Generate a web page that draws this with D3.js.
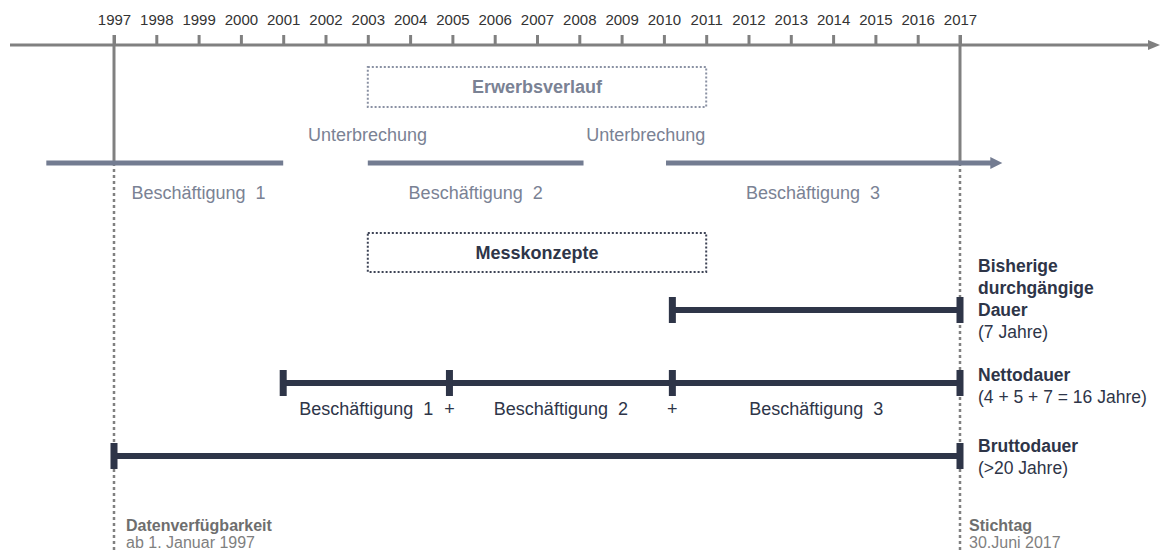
<!DOCTYPE html>
<html>
<head>
<meta charset="utf-8">
<script src="https://cdnjs.cloudflare.com/ajax/libs/d3/7.8.5/d3.min.js"></script>
<style>
  body { margin: 0; background: #fff; }
  svg { display: block; font-family: "Liberation Sans", Arial, sans-serif; }
</style>
</head>
<body>
<svg id="chart" width="1164" height="553"></svg>
<script>
// years on the time axis
var years = d3.range(1997, 2018);

// employment spells (start / end in years)
var jobNames = ["Beschäftigung 1", "Beschäftigung 2", "Beschäftigung 3"];
var jobStart = [1995.4, 2003, 2010.05];
var jobEnd = [2001, 2008.1, 2018];

// interruptions between spells
var gapNames = ["Unterbrechung", "Unterbrechung"];
var gapStart = [2001, 2008.1];
var gapEnd = [2003, 2010.05];

// measurement concepts
var measureNames = [["Bisherige", "durchgängige", "Dauer"], ["Nettodauer"], ["Bruttodauer"]];
var measureNotes = ["(7 Jahre)", "(4 + 5 + 7 = 16 Jahre)", "(>20 Jahre)"];
var measureCuts = [[2010.2, 2017], [2001, 2004.93, 2010.2, 2017], [1997, 2017]];

// window of observed data
var windowYears = [1997, 2017];
var windowNotes = [["Datenverfügbarkeit", "ab 1. Januar 1997"], ["Stichtag", "30.Juni 2017"]];

var slate = "#737c91", slateText = "#7a8294", navy = "#2e3548", grey = "#808080";

var svg = d3.select("#chart");
var x = d3.scaleLinear().domain([1997, 2017]).range([114, 960]);
var axisY = 45, jobY = 163;

// axis line with arrow
svg.append("line")
    .attr("x1", 10).attr("x2", 1150)
    .attr("y1", axisY).attr("y2", axisY)
    .attr("stroke", grey).attr("stroke-width", 3);
svg.append("path")
    .attr("d", "M1148," + (axisY - 5) + "L1160," + axisY + "L1148," + (axisY + 5) + "Z")
    .attr("fill", grey);

var axis = svg.append("g")
    .attr("transform", "translate(0," + axisY + ")")
    .call(d3.axisTop(x).tickValues(years).tickSize(10).tickPadding(10).tickFormat(d3.format("d")));
axis.select(".domain").remove();
axis.selectAll(".tick line").attr("stroke", grey).attr("stroke-width", 3);
axis.selectAll(".tick text")
    .attr("fill", "#333")
    .style("font-size", "15px")
    .style("font-family", "Liberation Sans, Arial, sans-serif");

// observation window: solid part, then dotted part
windowYears.forEach(function (yr, i) {
    svg.append("line")
        .attr("x1", x(yr)).attr("x2", x(yr))
        .attr("y1", axisY - 10).attr("y2", jobY)
        .attr("stroke", grey).attr("stroke-width", 3);
    svg.append("line")
        .attr("x1", x(yr)).attr("x2", x(yr))
        .attr("y1", jobY).attr("y2", 552)
        .attr("stroke", grey).attr("stroke-width", 2.5)
        .attr("stroke-dasharray", "3,3");
    var tx = x(yr) + (i == 0 ? 12 : 9);
    var t = svg.append("text")
        .attr("x", tx).attr("y", 531)
        .style("font-size", "16px");
    t.append("tspan").attr("x", tx).attr("font-weight", "bold")
        .attr("fill", "#6e6e6e").text(windowNotes[i][0]);
    t.append("tspan").attr("x", tx).attr("dy", 17)
        .attr("fill", "#7f7f7f").text(windowNotes[i][1]);
});

// dotted headline boxes
function box(y0, y1, label, stroke, fill) {
    svg.append("rect")
        .attr("x", x(2003)).attr("y", y0)
        .attr("width", x(2011) - x(2003)).attr("height", y1 - y0)
        .attr("fill", "none").attr("stroke", stroke).attr("stroke-width", 2)
        .attr("stroke-dasharray", "2,2");
    svg.append("text")
        .attr("x", (x(2003) + x(2011)) / 2).attr("y", (y0 + y1) / 2 + 6)
        .attr("text-anchor", "middle").attr("font-weight", "bold")
        .attr("fill", fill).style("font-size", "18px").text(label);
}
box(67, 107, "Erwerbsverlauf", "#8a91a3", slateText);
box(233, 272, "Messkonzepte", "#3d4355", navy);

// employment spells
jobNames.forEach(function (name, i) {
    var last = i == jobNames.length - 1;
    svg.append("line")
        .attr("x1", x(jobStart[i])).attr("x2", last ? x(jobEnd[i]) - 10 : x(jobEnd[i]))
        .attr("y1", jobY).attr("y2", jobY)
        .attr("stroke", slate).attr("stroke-width", 5);
    if (last) {
        svg.append("path")
            .attr("d", "M" + (x(jobEnd[i]) - 12) + "," + (jobY - 6) + "L" + x(jobEnd[i]) + "," + jobY +
                "L" + (x(jobEnd[i]) - 12) + "," + (jobY + 6) + "Z")
            .attr("fill", slate);
    }
    var a = Math.max(jobStart[i], 1997), b = Math.min(jobEnd[i], 2017);
    svg.append("text")
        .attr("x", (x(a) + x(b)) / 2).attr("y", 199)
        .attr("text-anchor", "middle").attr("fill", slateText)
        .style("font-size", "18px")
        .text(name.replace(/ (\d)$/, "\u00a0 $1"));
});

var gapShift = [42, 21];
gapNames.forEach(function (name, i) {
    svg.append("text")
        .attr("x", (x(gapStart[i]) + x(gapEnd[i])) / 2 + gapShift[i]).attr("y", 141)
        .attr("text-anchor", "middle").attr("fill", slateText)
        .style("font-size", "18px").text(name);
});

// measurement bars
var rowY = d3.scalePoint().domain(d3.range(measureNames.length)).range([310, 456]);
var labelShift = [-38, -2, -4];
measureCuts.forEach(function (cuts, i) {
    var y = rowY(i);
    svg.append("line")
        .attr("x1", x(cuts[0])).attr("x2", x(cuts[cuts.length - 1]))
        .attr("y1", y).attr("y2", y)
        .attr("stroke", navy).attr("stroke-width", 6);
    svg.selectAll(null)
        .data(cuts)
        .enter()
        .append("rect")
        .attr("x", function (d) { return x(d) - 3.5; })
        .attr("y", y - 13)
        .attr("width", 7).attr("height", 26)
        .attr("fill", navy);

    var t = svg.append("text")
        .attr("x", 978).attr("y", y + labelShift[i])
        .attr("fill", navy).style("font-size", "17.5px");
    measureNames[i].forEach(function (line, j) {
        t.append("tspan").attr("x", 978).attr("dy", j == 0 ? 0 : 22)
            .attr("font-weight", "bold").text(line);
    });
    t.append("tspan").attr("x", 978).attr("dy", 22).text(measureNotes[i]);

    if (cuts.length > 2) {
        // spell labels between cuts, "+" under inner cuts
        d3.pairs(cuts).forEach(function (p, k) {
            svg.append("text")
                .attr("x", (x(p[0]) + x(p[1])) / 2).attr("y", y + 32)
                .attr("text-anchor", "middle").attr("fill", navy)
                .style("font-size", "18px")
                .text(jobNames[k].replace(/ (\d)$/, "\u00a0 $1"));
        });
        cuts.slice(1, -1).forEach(function (c) {
            svg.append("text")
                .attr("x", x(c)).attr("y", y + 32)
                .attr("text-anchor", "middle").attr("fill", navy)
                .style("font-size", "18px").text("+");
        });
    }
});
</script>
</body>
</html>
